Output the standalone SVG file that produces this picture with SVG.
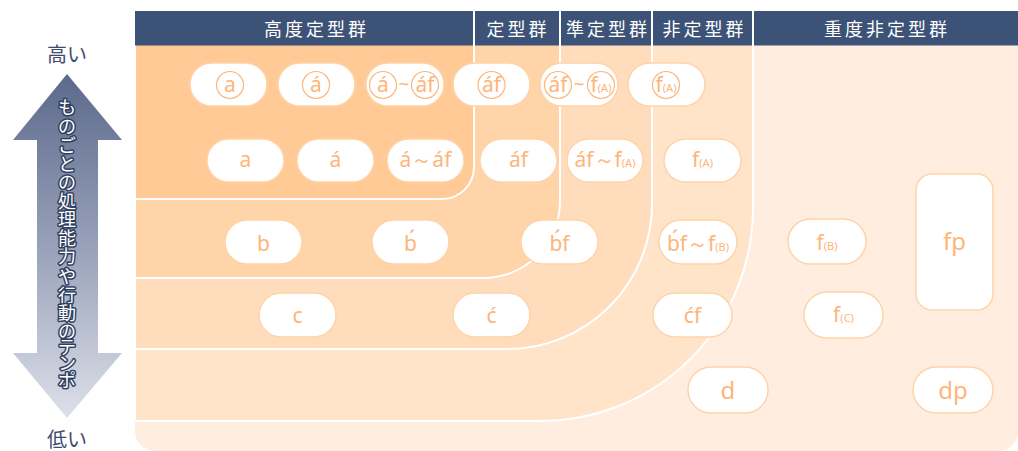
<svg xmlns="http://www.w3.org/2000/svg" width="1018" height="451" viewBox="0 0 1018 451">
<defs>
<linearGradient id="arrowGrad" x1="0" y1="74" x2="0" y2="418" gradientUnits="userSpaceOnUse">
<stop offset="0" stop-color="#5B698B"/>
<stop offset="0.5" stop-color="#98A1B9"/>
<stop offset="1" stop-color="#DDE0E9"/>
</linearGradient>
</defs>
<style>
.region{stroke:#FFFFFF;stroke-width:2}
.pill{fill:#FFFFFF;stroke:#FFD3A8;stroke-width:1.5}
.lbl{font-family:"Noto Sans","Liberation Sans",sans-serif;font-size:21px;fill:#FDB57A;text-anchor:middle}
.big{font-size:24px}
.sub{font-size:11px}
.ring{fill:none;stroke:#FDB57A;stroke-width:1.2}
.hdr{font-family:"Noto Sans CJK JP",sans-serif;font-size:18px;fill:#FFFFFF;text-anchor:middle;letter-spacing:3px}
.side{font-family:"Noto Sans CJK JP",sans-serif;font-size:20px;fill:#3D4C6D;text-anchor:middle}
.vert{font-family:"Noto Sans CJK JP",sans-serif;font-size:18px;fill:#FFFFFF;stroke:#2F3F60;stroke-width:3;paint-order:stroke;stroke-linejoin:round;text-anchor:middle}
.tl{font-family:"Noto Sans","Noto Sans CJK JP",sans-serif;font-size:19px;fill:#FDB57A;text-anchor:middle}
</style>

<!-- background zones -->
<g id="zones">
<path d="M135,40 H1018 V431 A20,20 0 0 1 998,451 H155 A20,20 0 0 1 135,431 Z" fill="#FFEEDF"/>
<path class="region" d="M135,40 H753 V208 A213,213 0 0 1 540,421 H135 Z" fill="#FFE4CA"/>
<path class="region" d="M135,40 H652 V204 A145,145 0 0 1 507,349 H135 Z" fill="#FFDDBC"/>
<path class="region" d="M135,40 H560 V201 A77,77 0 0 1 483,278 H135 Z" fill="#FFD4A9"/>
<path class="region" d="M135,40 H474 V167 A32,32 0 0 1 442,199 H135 Z" fill="#FFCA96"/>
</g>

<!-- header -->
<g id="header">
<rect x="135" y="11" width="883" height="34.5" fill="#3C5276"/>
<g stroke="#FFFFFF" stroke-width="2">
<line x1="474" y1="11" x2="474" y2="46"/>
<line x1="560" y1="11" x2="560" y2="46"/>
<line x1="652" y1="11" x2="652" y2="46"/>
<line x1="753" y1="11" x2="753" y2="46"/>
</g>
<text class="hdr" x="316.5" y="36">高度定型群</text>
<text class="hdr" x="518" y="36">定型群</text>
<text class="hdr" x="608" y="36">準定型群</text>
<text class="hdr" x="704.5" y="36">非定型群</text>
<text class="hdr" x="887" y="36">重度非定型群</text>
</g>

<!-- axis arrow -->
<g id="axis">
<text class="side" x="67" y="62">高い</text>
<path d="M67,74 L122,140 L98,140 L98,353 L122,353 L67,418 L13,353 L37,353 L37,140 L13,140 Z" fill="url(#arrowGrad)"/>
<text class="vert" x="67 67 67 67 67 67 67 67 67 67 67 67 67 67 67 67" y="114 133 152 171 189 208 226 245 263 283 302 320 338 354 370 387">ものごとの処理能力や行動のテンポ</text>
<text class="side" x="67" y="447">低い</text>
</g>

<!-- row 1 -->
<g id="n-a-circ">
<rect class="pill" x="190" y="63" width="77" height="43" rx="21.5"/>
<circle class="ring" cx="230" cy="85" r="13.5"/>
<text class="lbl" x="230" y="92">a</text>
</g>
<g id="n-a1-circ">
<rect class="pill" x="278" y="63" width="77" height="43" rx="21.5"/>
<circle class="ring" cx="316" cy="85" r="13.5"/>
<text class="lbl" x="316" y="92">á</text>
</g>
<g id="n-a1-a1f-circ">
<rect class="pill" x="366" y="63" width="78" height="43" rx="21.5"/>
<circle class="ring" cx="383" cy="85" r="13.5"/>
<text class="lbl" x="383" y="92">á</text>
<text class="tl" x="404" y="91">~</text>
<circle class="ring" cx="425" cy="85" r="13.5"/>
<text class="lbl" x="425" y="92">áf</text>
</g>
<g id="n-a1f-circ">
<rect class="pill" x="453" y="63" width="77" height="43" rx="21.5"/>
<circle class="ring" cx="491.5" cy="85" r="13.5"/>
<text class="lbl" x="491.5" y="92">áf</text>
</g>
<g id="n-a1f-fA-circ">
<rect class="pill" x="540" y="63" width="78" height="43" rx="21.5"/>
<circle class="ring" cx="558" cy="85" r="13.5"/>
<text class="lbl" x="558" y="92">áf</text>
<text class="tl" x="579" y="91">~</text>
<circle class="ring" cx="601" cy="85" r="13.5"/>
<text class="lbl" x="601" y="92">f<tspan class="sub">(A)</tspan></text>
</g>
<g id="n-fA-circ">
<rect class="pill" x="628" y="63" width="77" height="43" rx="21.5"/>
<circle class="ring" cx="666" cy="85" r="13.5"/>
<text class="lbl" x="666" y="92">f<tspan class="sub">(A)</tspan></text>
</g>

<!-- row 2 -->
<g id="n-a">
<rect class="pill" x="207" y="139" width="77" height="43" rx="21.5"/>
<text class="lbl" x="245.5" y="167">a</text>
</g>
<g id="n-a1">
<rect class="pill" x="297" y="139" width="77" height="43" rx="21.5"/>
<text class="lbl" x="335.5" y="167">á</text>
</g>
<g id="n-a1-a1f">
<rect class="pill" x="387" y="139" width="77" height="43" rx="21.5"/>
<text class="lbl" x="425.5" y="167">á～áf</text>
</g>
<g id="n-a1f">
<rect class="pill" x="480" y="139" width="77" height="43" rx="21.5"/>
<text class="lbl" x="518.5" y="167">áf</text>
</g>
<g id="n-a1f-fA">
<rect class="pill" x="567" y="139" width="76" height="43" rx="21.5"/>
<text class="lbl" x="605" y="167">áf～f<tspan class="sub">(A)</tspan></text>
</g>
<g id="n-fA">
<rect class="pill" x="664" y="139" width="77" height="43" rx="21.5"/>
<text class="lbl" x="702.5" y="167">f<tspan class="sub">(A)</tspan></text>
</g>

<!-- row 3 -->
<g id="n-b">
<rect class="pill" x="225" y="220" width="77" height="44" rx="22"/>
<text class="lbl" x="263.5" y="251">b</text>
</g>
<g id="n-b1">
<rect class="pill" x="372" y="220" width="77" height="44" rx="22"/>
<text class="lbl" x="410.5" y="251">b́</text>
</g>
<g id="n-b1f">
<rect class="pill" x="521" y="220" width="77" height="44" rx="22"/>
<text class="lbl" x="559.5" y="251">b́f</text>
</g>
<g id="n-b1f-fB">
<rect class="pill" x="659" y="220" width="78" height="44" rx="22"/>
<text class="lbl" x="698" y="251">b́f～f<tspan class="sub">(B)</tspan></text>
</g>
<g id="n-fB">
<rect class="pill" x="788" y="219" width="78" height="45" rx="22.5"/>
<text class="lbl" x="827" y="250">f<tspan class="sub">(B)</tspan></text>
</g>

<!-- row 4 -->
<g id="n-c">
<rect class="pill" x="259" y="293" width="77" height="44" rx="22"/>
<text class="lbl" x="297.5" y="323">c</text>
</g>
<g id="n-c1">
<rect class="pill" x="453" y="293" width="77" height="44" rx="22"/>
<text class="lbl" x="491.5" y="323">ć</text>
</g>
<g id="n-c1f">
<rect class="pill" x="653" y="293" width="79" height="44" rx="22"/>
<text class="lbl" x="692.5" y="323">ćf</text>
</g>
<g id="n-fC">
<rect class="pill" x="804" y="292" width="79" height="46" rx="23"/>
<text class="lbl" x="843.5" y="322">f<tspan class="sub">(C)</tspan></text>
</g>

<!-- fp, d, dp -->
<g id="n-fp">
<rect class="pill" x="916" y="174" width="77" height="136" rx="16"/>
<text class="lbl big" x="954.5" y="250">fp</text>
</g>
<g id="n-d">
<rect class="pill" x="688" y="367" width="80" height="46" rx="23"/>
<text class="lbl big" x="728" y="399">d</text>
</g>
<g id="n-dp">
<rect class="pill" x="913" y="367" width="80" height="46" rx="23"/>
<text class="lbl big" x="953" y="399">dp</text>
</g>

<g id="connectors"></g>
</svg>
